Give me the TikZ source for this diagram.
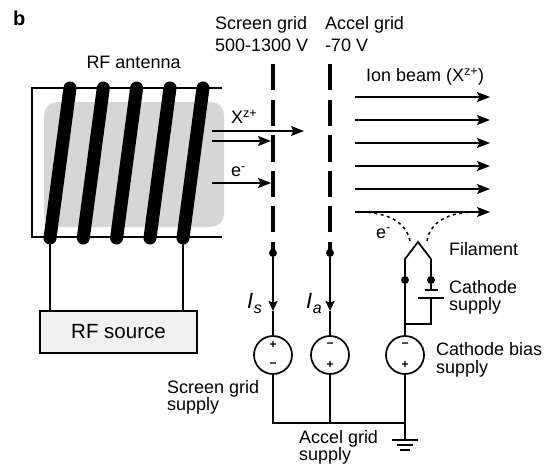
\documentclass[tikz,border=0pt]{standalone}
\usepackage{fontspec}
\setmainfont{Liberation Sans}
\usetikzlibrary{arrows.meta}
\definecolor{plasma}{HTML}{D6D6D6}
\definecolor{rfbox}{HTML}{F0F0F0}
\tikzset{
  wire/.style={line width=1.7pt,black},
  frame/.style={line width=1.5pt,black},
  coil/.style={line width=13pt,line cap=round,black},
  gridbar/.style={line width=4.6pt,black},
  beam/.style={line width=1.6pt,-{Stealth[length=13pt,width=10pt,inset=2.5pt]}},
  curarrow/.style={line width=1.7pt,-{Stealth[length=10pt,width=9pt,inset=1.5pt]}},
  lbl/.style={anchor=base west,inner sep=0pt,outer sep=0pt,font=\fontsize{18}{21}\selectfont},
  dotnode/.style={circle,fill=black,inner sep=0pt,minimum size=8pt},
  source/.style={circle,draw=black,line width=1.7pt,fill=white,inner sep=0pt,minimum size=38pt},
  sign/.style={inner sep=0pt,font=\bfseries\fontsize{12}{12}\selectfont},
  dashcurve/.style={line width=1.5pt,dash pattern=on 3pt off 3.5pt},
  plate/.style={line width=1.8pt}
}
\begin{document}
\begin{tikzpicture}[x=1pt,y=-1pt]
\useasboundingbox (0,0) rectangle (559,465);
% plasma
\fill[plasma,rounded corners=13pt] (44,102) rectangle (224,227);
% chamber
\coordinate (chTR) at (222,88);
\coordinate (chTL) at (32,88);
\coordinate (chBL) at (32,237);
\coordinate (chBR) at (222,237);
\draw[frame] (chTR) -- (chTL) -- (chBL) -- (chBR);
% antenna
\foreach \i/\t/\b in {1/70/50,2/103.3/83.3,3/136.6/116.6,4/170/150,5/203/183}{
  \coordinate (ct\i) at (\t,88);
  \coordinate (cb\i) at (\b,238);
  \draw[coil] (ct\i) -- (cb\i);
}
% RF source
\node[draw=black,line width=1.5pt,fill=rfbox,minimum width=157pt,minimum height=42pt,inner sep=0pt,
      font=\fontsize{20.5}{24}\selectfont] (rf) at (118.5,332) {RF source};
\draw[frame] (cb1) -- (cb1 |- rf.north);
\draw[frame] (cb5) -- (cb5 |- rf.north);
% grids
\foreach \x/\g in {273/s,330/a}{
  \foreach \a/\e in {64/90,100/126,135/162,171/197,206/232,242/253}
    \draw[gridbar] (\x,\a) -- (\x,\e);
}
% circuit nodes
\node[dotnode] (ds) at (273,253) {};
\node[dotnode] (da) at (330,253) {};
\node[source] (ss) at (273,355) {};
\node[source] (sa) at (330,355) {};
\node[source] (sc) at (405,355) {};
\node[sign] at (273,345) {+};
\node[sign] at (273,365) {−};
\node[sign] at (330,345) {−};
\node[sign] at (330,365) {+};
\node[sign] at (405,345) {−};
\node[sign] at (405,365) {+};
% currents
\coordinate (tips) at (273,311);
\coordinate (tipa) at (330,311);
\draw[curarrow] (ds) -- (tips);
\draw[curarrow] (da) -- (tipa);
\draw[wire] (tips) -- (ss.north);
\draw[wire] (tipa) -- (sa.north);
% common rail and ground
\coordinate (rails) at (273,423);
\coordinate (raila) at (330,423);
\coordinate (railc) at (405,423);
\coordinate (gnd) at (405,440);
\draw[wire] (ss.south) -- (rails) -- (railc);
\draw[wire] (sa.south) -- (raila);
\draw[wire] (sc.south) -- (railc) -- (gnd);
\draw[plate] (392,440) -- (418,440);
\draw[plate] (397,445) -- (413,445);
\draw[plate] (400,450) -- (410,450);
% filament
\coordinate (fa) at (418,242);
\coordinate (fl) at (405,259);
\coordinate (fr) at (431,259);
\node[dotnode] (dl) at (405,280) {};
\node[dotnode] (dr) at (431,280) {};
\coordinate (p1) at (431,290);
\coordinate (p2) at (431,298);
\coordinate (jr) at (431,324);
\coordinate (jl) at (405,324);
\draw[wire] (sc.north) -- (jl) -- (dl) -- (fl) -- (fa) -- (fr) -- (dr) -- (p1);
\draw[plate] (425,290) -- (438,290);
\draw[plate] (418,298) -- (444,298);
\draw[wire] (p2) -- (jr) -- (jl);
% beams
\foreach \y in {97,120,143,166,189,212}{
  \draw[beam] (355,\y) -- (490,\y);
}
% emitted electrons
\draw[dashcurve] (410,241) .. controls (406,222) and (388,212) .. (358,212);
\draw[dashcurve] (427,241) .. controls (430,222) and (448,212) .. (476,212);
% internal arrows
\coordinate (ia1) at (212,131); \coordinate (ib1) at (304,131);
\coordinate (ia2) at (212,141); \coordinate (ib2) at (271,141);
\coordinate (ia3) at (212,183); \coordinate (ib3) at (271,183);
\draw[beam] (ia1) -- (ib1);
\draw[beam] (ia2) -- (ib2);
\draw[beam] (ia3) -- (ib3);
% labels
\node[anchor=base west,inner sep=0pt,font=\bfseries\fontsize{20}{24}\selectfont] at (13,26) {b};
\node[lbl] at (86.5,69) {RF antenna};
\node[lbl] at (215,30) {Screen grid};
\node[lbl] at (215,52) {500-1300 V};
\node[lbl] at (325,30) {Accel grid};
\node[lbl] at (325,52) {-70 V};
\node[lbl] at (366,82) {Ion beam (X\textsuperscript{z+})};
\node[lbl] at (231,124) {X\textsuperscript{z+}};
\node[lbl] at (231,177) {e\textsuperscript{-}};
\node[lbl] at (376,238) {e\textsuperscript{-}};
\node[lbl] at (449,255) {Filament};
\node[lbl] at (449,293) {Cathode};
\node[lbl] at (449,310) {supply};
\node[lbl] at (436,355) {Cathode bias};
\node[lbl] at (436,373) {supply};
\node[lbl] at (167,393) {Screen grid};
\node[lbl] at (167,410) {supply};
\node[lbl] at (299,443) {Accel grid};
\node[lbl] at (299,460) {supply};
\node[anchor=base west,inner sep=0pt,font=\itshape\fontsize{22}{26}\selectfont] at (247,308) {I\kern0.5pt\raisebox{-5pt}{\fontsize{16}{18}\selectfont s}};
\node[anchor=base west,inner sep=0pt,font=\itshape\fontsize{22}{26}\selectfont] at (306,308) {I\kern0.5pt\raisebox{-5pt}{\fontsize{16}{18}\selectfont a}};
\end{tikzpicture}
\end{document}
